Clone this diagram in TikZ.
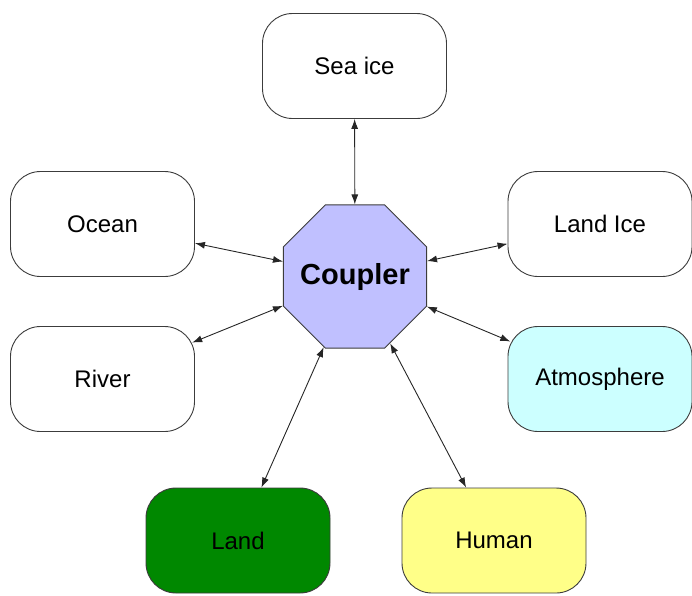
\documentclass[tikz,border=0pt]{standalone}
\usepackage{fontspec}
\setmainfont{Liberation Sans}
\usetikzlibrary{shapes.geometric,arrows.meta}
\definecolor{couplerfill}{RGB}{192,192,255}
\definecolor{atmosfill}{RGB}{204,255,255}
\definecolor{landfill}{RGB}{0,136,0}
\definecolor{humanfill}{RGB}{255,255,136}
\definecolor{edgegray}{RGB}{60,60,60}
\tikzset{
  comp/.style={rectangle, rounded corners=30pt, draw=edgegray, line width=0.9pt,
    minimum width=184pt, minimum height=105pt, inner sep=0pt, fill=white,
    font=\fontsize{24}{28}\selectfont},
  hub/.style={regular polygon, regular polygon sides=8, draw=edgegray, line width=0.9pt,
    fill=couplerfill, minimum size=155pt, inner sep=0pt,
    font=\fontsize{29}{33}\selectfont\bfseries},
  link/.style={draw=black!85, line width=0.9pt,
    {Latex[length=10pt,width=7pt]}-{Latex[length=10pt,width=7pt]}}
}
\begin{document}
\begin{tikzpicture}[x=1pt,y=-1pt]
\useasboundingbox (0,0) rectangle (692,595);
\node[hub] (coupler) at (355,276.5) {\makebox[0pt]{Coupler}};
\node[comp] (seaice) at (354.5,66) {Sea ice};
\node[comp] (ocean) at (102.5,224) {Ocean};
\node[comp] (landice) at (600,224) {Land Ice};
\node[comp] (river) at (102.5,379) {River};
\node[comp, fill=atmosfill] (atmos) at (600,379) {Atmosphere};
\node[comp, fill=landfill] (land) at (238,540.5) {Land};
\node[comp, fill=humanfill] (human) at (494,540.5) {Human};
\draw[link] (seaice) -- (coupler);
\draw[link] (ocean) -- (coupler);
\draw[link] (landice) -- (coupler);
\draw[link, shorten <=-3pt] (river) -- (coupler);
\draw[link, shorten <=-3pt] (atmos) -- (coupler);
\draw[link] (land) -- (coupler);
\draw[link] (human) -- (coupler);
\end{tikzpicture}
\end{document}
